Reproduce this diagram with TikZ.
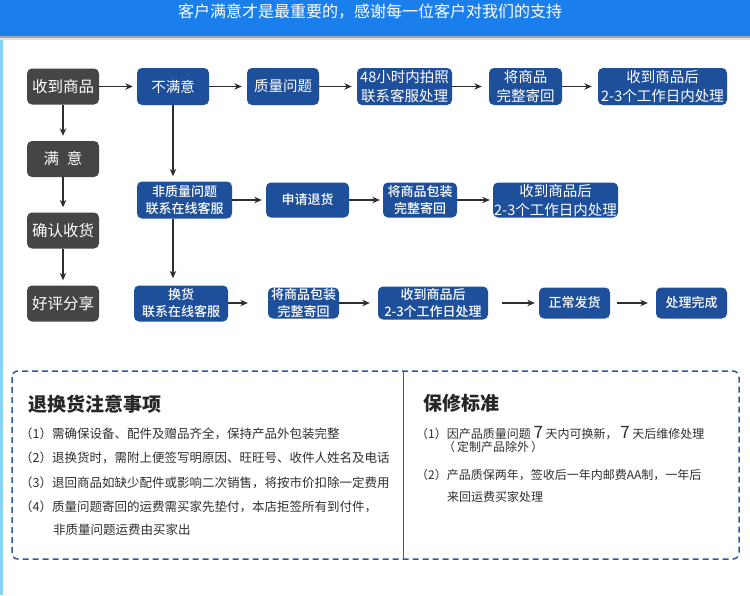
\documentclass[tikz,border=0pt]{standalone}
\usepackage{fontspec}
\setmainfont{Noto Sans CJK SC}
\newfontfamily\cjkmed{Noto Sans CJK SC Medium}
\usetikzlibrary{arrows.meta}
\definecolor{hdBlue}{HTML}{1A7FEC}
\definecolor{edgeBlue}{HTML}{86D3F5}
\definecolor{boxGray}{HTML}{454545}
\definecolor{boxBlue}{HTML}{1E4F9A}
\definecolor{arrowGray}{HTML}{2E2E2E}
\definecolor{dashBlue}{HTML}{2B5A9E}
\definecolor{noteText}{HTML}{2E2E2E}

\tikzset{
  graybox/.style={fill=boxGray, text=white, rounded corners=5pt, inner sep=0pt,
    minimum width=72pt, minimum height=36pt, font=\fontsize{15.5}{18}\selectfont},
  bluebox/.style={fill=boxBlue, text=white, rounded corners=5pt, inner sep=0pt,
    align=center, minimum height=37pt, font=\fontsize{14.5}{19}\selectfont},
  bluebold/.style={bluebox, minimum height=35pt, font=\cjkmed\fontsize{13}{17}\selectfont},
  flow/.style={draw=arrowGray, line width=1.2pt, -{Stealth[length=7.5pt,width=6.5pt]}, shorten >=5pt},
  notetitle/.style={anchor=west, text=black!85, inner sep=0pt, font=\bfseries\fontsize{19}{22}\selectfont},
  notetext/.style={anchor=west, text=noteText, inner sep=0pt, font=\fontsize{12.5}{15}\selectfont}
}

\begin{document}
\begin{tikzpicture}[x=1pt, y=-1pt]
  \useasboundingbox (0,0) rectangle (750,595);

  % Header band with its shadow
  \fill[hdBlue] (0,0) rectangle (750,36);
  \fill[black!35] (0,36) rectangle (750,37.5);
  \fill[black!12] (0,37.5) rectangle (750,39.5);
  \fill[edgeBlue] (0,39.5) rectangle (2.5,595);
  \node[text=white, font=\fontsize{16}{18}\selectfont] (slogan) at (370,12)
    {客户满意才是最重要的，感谢每一位客户对我们的支持};

  % Left column
  \node[graybox] (recv) at (63,86.5) {收到商品};
  \node[graybox] (ok) at (63,159) {满\hspace{0.5em}意};
  \node[graybox] (confirm) at (63,230.5) {确认收货};
  \node[graybox] (review) at (63,303.5) {好评分享};

  % Row of quality problems
  \node[bluebox, minimum width=72pt] (unsat) at (173,86.5) {不满意};
  \node[bluebox, minimum width=72pt] (qual) at (283,86.5) {质量问题};
  \node[bluebox, minimum width=95pt] (photo) at (404.5,86.5) {48小时内拍照\\联系客服处理};
  \node[bluebox, minimum width=73pt] (sendback) at (525.5,86.5) {将商品\\完整寄回};
  \node[bluebox, minimum width=129pt] (process1) at (662.5,86.5) {收到商品后\\2-3个工作日内处理};

  % Row of returns
  \node[bluebold, minimum width=95pt, minimum height=37pt] (nonqual) at (184.5,200) {非质量问题\\联系在线客服};
  \node[bluebold, minimum width=83pt] (refund) at (307.5,200) {申请退货};
  \node[bluebold, minimum width=74pt] (pack2) at (420,200) {将商品包装\\完整寄回};
  \node[bluebox, minimum width=125pt, minimum height=35pt] (process2) at (555.5,200) {收到商品后\\2-3个工作日内处理};

  % Row of exchanges
  \node[bluebold, minimum width=94pt, minimum height=36pt] (exch) at (181,303.5) {换货\\联系在线客服};
  \node[bluebold, minimum width=71pt, minimum height=31pt] (pack3) at (303.5,303) {将商品包装\\完整寄回};
  \node[bluebold, minimum width=110pt, minimum height=33pt] (process3) at (433,303) {收到商品后\\2-3个工作日处理};
  \node[bluebold, minimum width=71pt, minimum height=31pt] (ship) at (574.5,303) {正常发货};
  \node[bluebold, minimum width=71pt, minimum height=31pt] (done) at (691.5,303) {处理完成};

  % Connectors
  \draw[flow] (recv) -- (ok);
  \draw[flow] (ok) -- (confirm);
  \draw[flow] (confirm) -- (review);
  \draw[flow, shorten >=4pt] (recv) -- (unsat);
  \draw[flow] (unsat) -- (qual);
  \draw[flow] (qual) -- (photo);
  \draw[flow, shorten >=7pt] (photo) -- (sendback);
  \draw[flow, shorten >=6pt] (sendback) -- (process1);
  \draw[flow] (unsat) -- (unsat |- nonqual.north);
  \draw[flow, shorten >=4pt] (nonqual) -- (refund);
  \draw[flow, shorten >=3pt] (refund) -- (pack2);
  \draw[flow, shorten >=3pt] (pack2) -- (process2);
  \draw[flow, shorten >=7pt] (nonqual.south -| unsat.south) -- (exch.north -| unsat.south);
  \draw[flow, shorten >=20pt] (exch.east |- pack3) -- (pack3);
  \draw[flow, shorten >=8pt] (pack3) -- (process3);
  \draw[flow, shorten <=14pt, shorten >=4pt] (process3) -- (ship);
  \draw[flow, shorten <=7pt, shorten >=8pt] (ship) -- (done);

  % Notes frame
  \draw[dashBlue, line width=1.5pt, dash pattern=on 6pt off 4pt, rounded corners=6pt]
    (12,371) rectangle (739,559);
  \draw[dashBlue, line width=1.5pt] (403.5,371) -- (403.5,559);

  % Return and exchange notes
  \node[notetitle] (rettitle) at (28,404) {退换货注意事项};
  \node[notetext] (ret1) at (20,434) {（1）需确保设备、配件及赠品齐全，保持产品外包装完整};
  \node[notetext] (ret2) at (20,458) {（2）退换货时，需附上便签写明原因、旺旺号、收件人姓名及电话};
  \node[notetext] (ret3) at (20,483) {（3）退回商品如缺少配件或影响二次销售，将按市价扣除一定费用};
  \node[notetext] (ret4) at (20,507) {（4）质量问题寄回的运费需买家先垫付，本店拒签所有到付件，};
  \node[notetext] (ret4b) at (53,530) {非质量问题运费由买家出};

  % Warranty notes
  \node[notetitle] (wartitle) at (423,403) {保修标准};
  \node[notetext, font=\fontsize{12}{15}\selectfont] (war1) at (416,433)
    {（1）因产品质量问题 {\fontsize{17}{18}\selectfont 7} 天内可换新， {\fontsize{17}{18}\selectfont 7} 天后维修处理};
  \node[notetext, font=\fontsize{12}{15}\selectfont] (war1b) at (443,447) {（\,定制产品除外\,）};
  \node[notetext, font=\fontsize{12}{15}\selectfont] (war2) at (416,475) {（2）产品质保两年，签收后一年内邮费AA制，一年后};
  \node[notetext, font=\fontsize{12}{15}\selectfont] (war2b) at (447,497) {来回运费买家处理};
\end{tikzpicture}
\end{document}
